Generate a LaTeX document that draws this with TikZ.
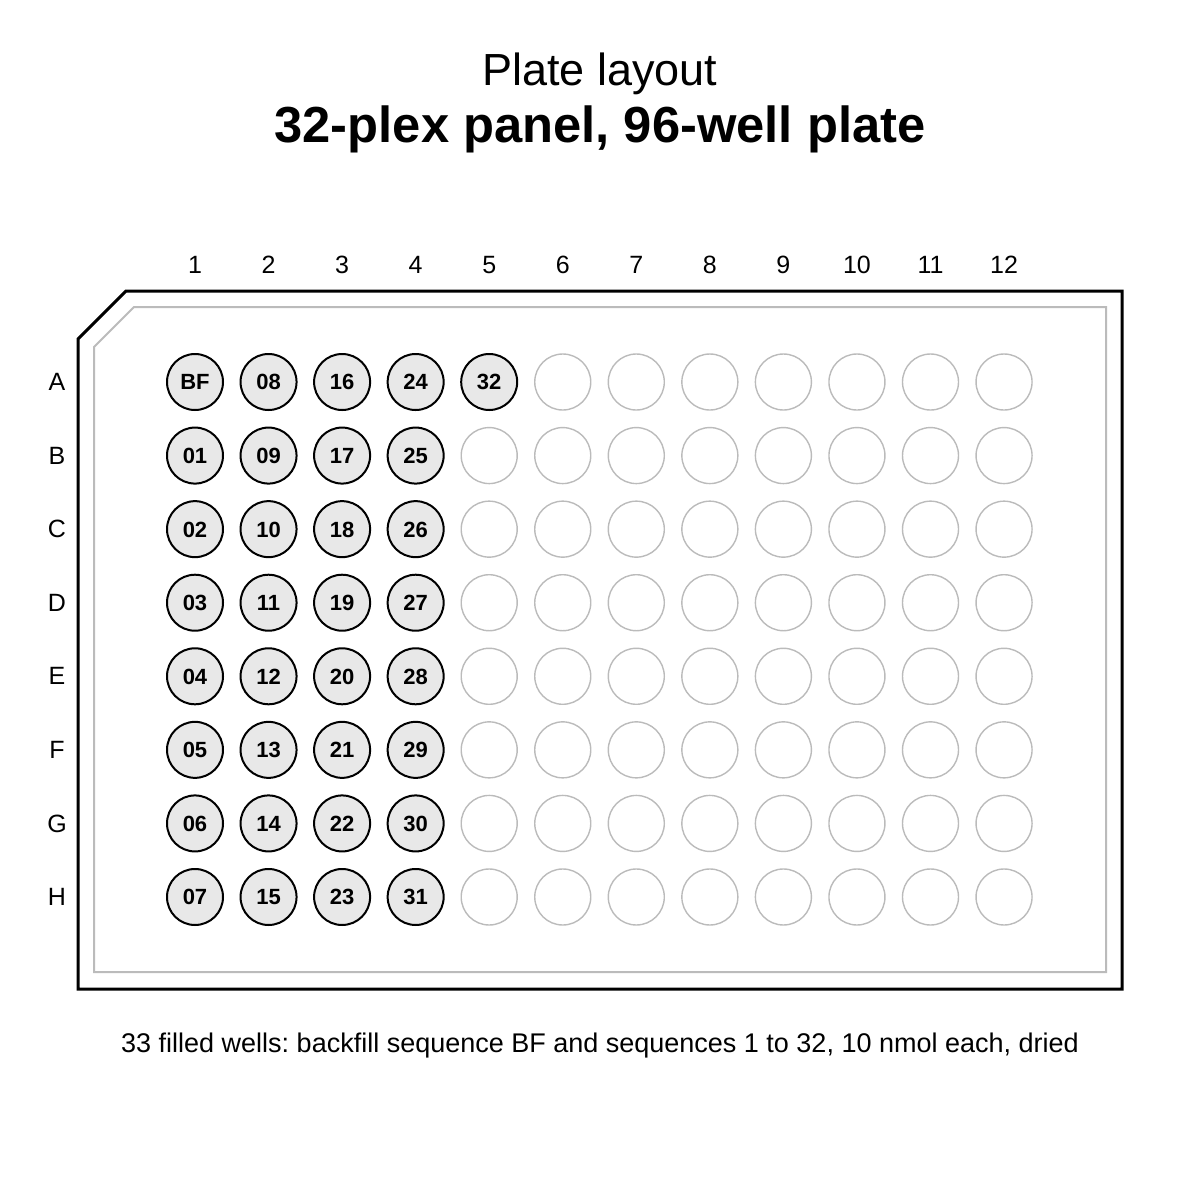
\documentclass[tikz,border=0pt]{standalone}
\usepackage{fontspec}
\setmainfont{Liberation Sans}
\frenchspacing
\definecolor{wellfill}{HTML}{E8E8E8}
\definecolor{rimgray}{HTML}{BBBBBB}
\begin{document}
\begin{tikzpicture}[x=1pt, y=-1pt,
  filled well/.style={circle, draw=black, line width=2pt, fill=wellfill, minimum size=56pt, inner sep=0pt, text height=15.8pt, text depth=0pt, font=\fontsize{22}{25}\selectfont\bfseries},
  empty well/.style={circle, draw=rimgray, line width=1.4pt, minimum size=56pt, inner sep=0pt},
  plate label/.style={font=\fontsize{25}{29}\selectfont}]
\useasboundingbox (0,0) rectangle (1200,1200);
% titles
\node[anchor=base, font=\fontsize{45}{52}\selectfont] (title) at (600,85) {Plate layout};
\node[anchor=base, font=\fontsize{50.7}{60}\selectfont\bfseries] (subtitle) at (600,142) {32-plex panel, 96-well plate};
% plate outline
\draw[line width=3pt, line join=miter] (78,339) -- (126,291) -- (1122,291) -- (1122,989) -- (78,989) -- cycle;
\draw[rimgray, line width=2pt] (94,347) -- (134,307) -- (1106,307) -- (1106,972) -- (94,972) -- cycle;
% column and row labels
\foreach \c in {1,...,12}
  \node[plate label] (col-\c) at ({195+73.55*(\c-1)},265) {\c};
\foreach \r [count=\i from 0] in {A,B,C,D,E,F,G,H}
  \node[plate label] (row-\r) at (57,{382+73.57*\i}) {\r};
% wells
\foreach \r [count=\i from 0] in {A,B,C,D,E,F,G,H}
  \foreach \c in {1,...,12} {
    \pgfmathtruncatemacro{\n}{8*(\c-1)+\i}
    \ifnum\n=0
      \node[filled well] (\r\c) at ({195+73.55*(\c-1)},{382+73.57*\i}) {BF};
    \else\ifnum\n<33
      \node[filled well] (\r\c) at ({195+73.55*(\c-1)},{382+73.57*\i}) {\ifnum\n<10 0\fi\n};
    \else
      \node[empty well] (\r\c) at ({195+73.55*(\c-1)},{382+73.57*\i}) {};
    \fi\fi
  }
% footnote
\node[anchor=base, font=\fontsize{27}{31}\selectfont] (note) at (600,1052) {33 filled wells: backfill sequence BF and sequences 1 to 32, 10 nmol each, dried};
\end{tikzpicture}
\end{document}
